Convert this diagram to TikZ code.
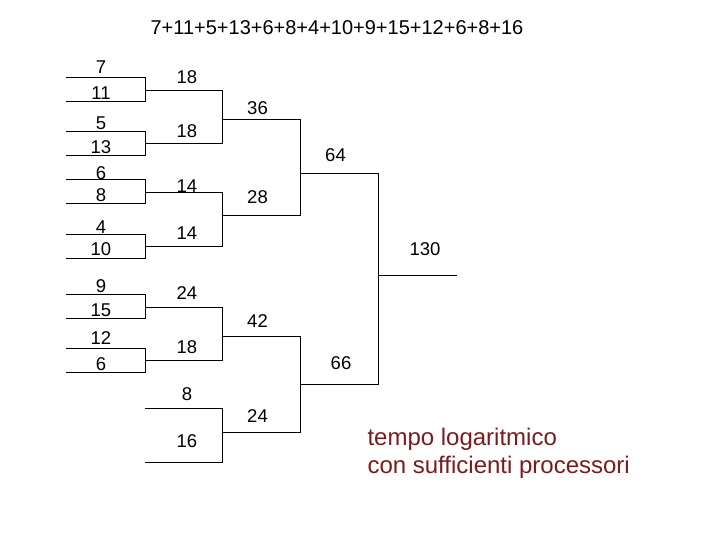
\documentclass[tikz,border=0pt]{standalone}
\usepackage{fontspec}
\setmainfont{Liberation Sans}
\definecolor{notered}{RGB}{122,28,30}
\begin{document}
\begin{tikzpicture}[x=1pt,y=-1pt,line width=1pt,
  lbl/.style={font=\fontsize{18.5}{22}\selectfont,inner sep=0pt},
  bracket/.style={draw=black}]
\useasboundingbox (0,0) rectangle (720,540);
% title
\node[font=\fontsize{20}{24}\selectfont,inner sep=0pt] (title) at (337,27.5) {7+11+5+13+6+8+4+10+9+15+12+6+8+16};
% leaf brackets
\draw[bracket] (66,78) -- (145,78) -- (145,102) -- (66,102);
\draw[bracket] (66,132) -- (145,132) -- (145,156) -- (66,156);
\draw[bracket] (66,180) -- (145,180) -- (145,204) -- (66,204);
\draw[bracket] (66,234) -- (145,234) -- (145,258) -- (66,258);
\draw[bracket] (66,294) -- (145,294) -- (145,318) -- (66,318);
\draw[bracket] (66,348) -- (145,348) -- (145,372) -- (66,372);
% level 1
\draw[bracket] (145,91) -- (222,91) -- (222,144) -- (145,144);
\draw[bracket] (145,193) -- (222,193) -- (222,246) -- (145,246);
\draw[bracket] (145,307) -- (222,307) -- (222,360) -- (145,360);
\draw[bracket] (145,408) -- (222,408) -- (222,462) -- (145,462);
% level 2
\draw[bracket] (222,120) -- (300,120) -- (300,216) -- (222,216);
\draw[bracket] (222,336) -- (300,336) -- (300,432) -- (222,432);
% level 3
\draw[bracket] (300,174) -- (378,174) -- (378,384) -- (300,384);
% root
\draw[bracket] (378,275) -- (457,275);
% leaf labels
\node[lbl] (l1) at (101,67.5) {7};
\node[lbl] (l2) at (101,93) {11};
\node[lbl] (l3) at (101,123.5) {5};
\node[lbl] (l4) at (101,147.5) {13};
\node[lbl] (l5) at (101,173.5) {6};
\node[lbl] (l6) at (101,195) {8};
\node[lbl] (l7) at (101,227.5) {4};
\node[lbl] (l8) at (101,249) {10};
\node[lbl] (l9) at (101,286.5) {9};
\node[lbl] (l10) at (101,310) {15};
\node[lbl] (l11) at (101,338.5) {12};
\node[lbl] (l12) at (101,364) {6};
% level 1 labels
\node[lbl] (a1) at (187,77) {18};
\node[lbl] (a2) at (187,131) {18};
\node[lbl] (a3) at (187,186.5) {14};
\node[lbl] (a4) at (187,233.5) {14};
\node[lbl] (a5) at (187,293.5) {24};
\node[lbl] (a6) at (187,347) {18};
\node[lbl] (a7) at (187,394) {8};
\node[lbl] (a8) at (187,441.5) {16};
% level 2 labels
\node[lbl] (b1) at (257.5,108) {36};
\node[lbl] (b2) at (257.5,197.5) {28};
\node[lbl] (b3) at (257.5,321.5) {42};
\node[lbl] (b4) at (257.5,416.5) {24};
% level 3 labels
\node[lbl] (c1) at (335.5,155) {64};
\node[lbl] (c2) at (341,363.5) {66};
% root label
\node[lbl] (r) at (425,249) {130};
% note
\node[anchor=west,align=left,text=notered,inner sep=0pt,
  font=\fontsize{24}{28}\selectfont] (note) at (367,453)
  {tempo logaritmico\\con sufficienti processori};
\end{tikzpicture}
\end{document}
